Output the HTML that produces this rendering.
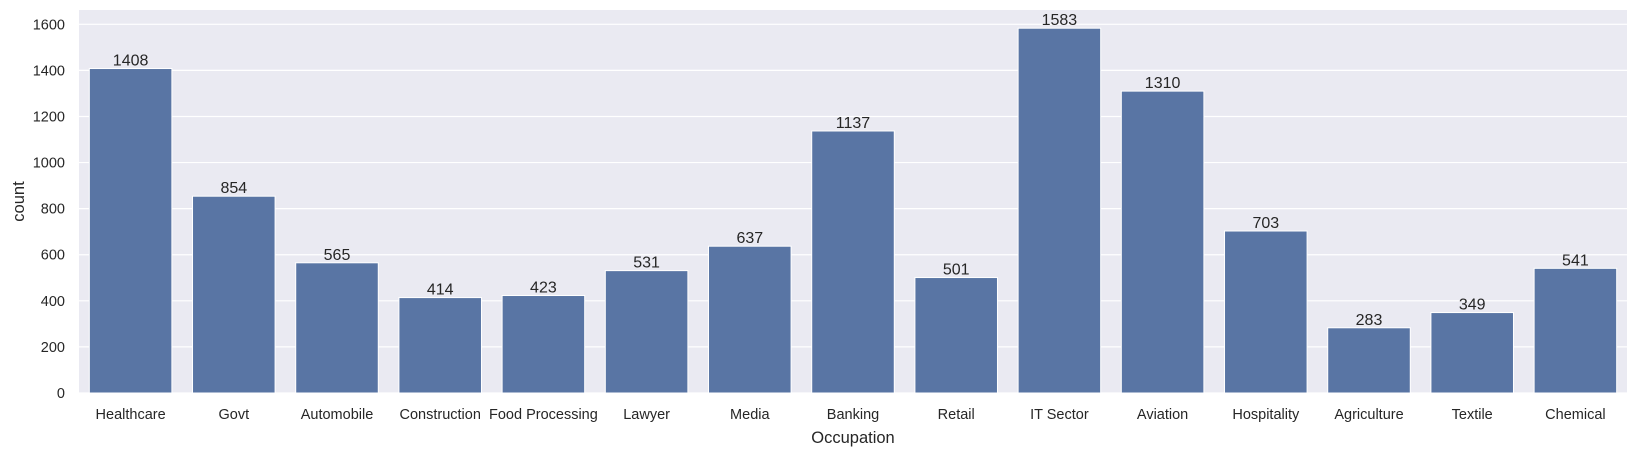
<!DOCTYPE html>
<html><head><meta charset="utf-8"><style>
body{margin:0;background:#fff;}
svg{display:block;font-family:"Liberation Sans","DejaVu Sans",sans-serif;}
</style></head><body>
<svg id="chart" width="1637" height="452" xmlns="http://www.w3.org/2000/svg"></svg>
<script>
const categories=["Healthcare","Govt","Automobile","Construction","Food Processing","Lawyer","Media","Banking","Retail","IT Sector","Aviation","Hospitality","Agriculture","Textile","Chemical"];
const counts=[1408,854,565,414,423,531,637,1137,501,1583,1310,703,283,349,541];
const yTicks=[0,200,400,600,800,1000,1200,1400,1600];
const NS="http://www.w3.org/2000/svg";
const svg=document.getElementById('chart');
const L=79,R=1627,T=10,B=393,yMax=1662;
const y=v=>B-(v/yMax)*(B-T);
const band=(R-L)/categories.length;
const x=i=>L+band*i;
function mk(tag,attrs,parent){const e=document.createElementNS(NS,tag);for(const k in attrs)e.setAttribute(k,attrs[k]);(parent||svg).appendChild(e);return e;}
const bg=mk('rect',{x:L,y:T,width:R-L,height:B-T,fill:'#eaeaf2'});


yTicks.forEach(t=>{
  const g=mk('line',{x1:L,x2:R,y1:y(t),y2:y(t),stroke:'#fff','stroke-width':1.2});
  
  
  const tx=mk('text',{x:L-14,y:y(t)+5,'text-anchor':'end','font-size':14.5,fill:'#262626'});
  tx.textContent=t;
  
  
});
categories.forEach((c,i)=>{
  const bx=x(i)+band*0.1,bw=band*0.8;
  const r=mk('rect',{x:bx,y:y(counts[i]),width:bw,height:B-y(counts[i]),fill:'#5975a4',stroke:'#fff','stroke-width':1});
  
  
  const v=mk('text',{x:x(i)+band/2,y:y(counts[i])-3,'text-anchor':'middle','font-size':16,fill:'#262626'});
  v.textContent=counts[i];
  
  
  const l=mk('text',{x:x(i)+band/2,y:419,'text-anchor':'middle','font-size':14.5,fill:'#262626'});
  l.textContent=c;
  
  
});
const xt=mk('text',{x:(L+R)/2,y:443,'text-anchor':'middle','font-size':16.5,fill:'#262626'});
xt.textContent='Occupation';


const yt=mk('text',{x:0,y:0,'text-anchor':'middle','font-size':16.5,fill:'#262626',transform:'translate(24,'+((T+B)/2)+') rotate(-90)'});
yt.textContent='count';


</script>
</body></html>
